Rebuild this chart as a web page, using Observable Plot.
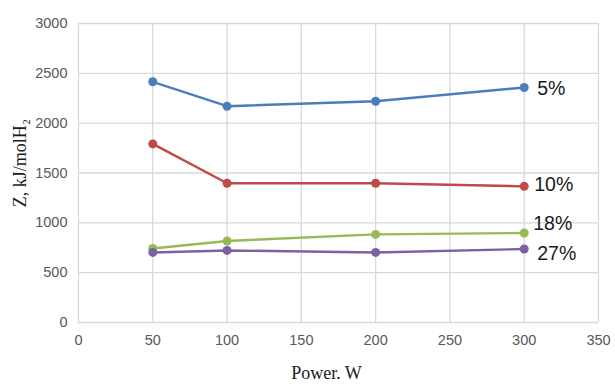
<!DOCTYPE html>
<html>
<head>
<meta charset="utf-8">
<script src="https://cdn.jsdelivr.net/npm/d3@7"></script>
<script src="https://cdn.jsdelivr.net/npm/@observablehq/plot@0.6"></script>
<style>
  html, body { margin: 0; padding: 0; background: #fff; }
</style>
</head>
<body>
<div id="chart"></div>
<script>
const power = [50, 100, 200, 300];
const seriesNames = ["5%", "10%", "18%", "27%"];
const z5 = [2415, 2170, 2220, 2358];
const z10 = [1792, 1397, 1397, 1366];
const z18 = [743, 818, 884, 898];
const z27 = [703, 723, 703, 737];
const xTicks = [0, 50, 100, 150, 200, 250, 300, 350];
const yTicks = [0, 500, 1000, 1500, 2000, 2500, 3000];
const xLabel = "Power. W";
const yLabel = "Z, kJ/molH\u2082";

const colors = ["#4A7EBB", "#BE4B48", "#98B954", "#7D60A0"];
const allValues = [z5, z10, z18, z27];
const rows = [];
seriesNames.forEach((s, i) => power.forEach((p, j) => rows.push({series: s, power: p, z: allValues[i][j]})));
const lastRows = seriesNames.map((s, i) => ({series: s, power: power[power.length - 1], z: allValues[i][power.length - 1]}));
const labelDy = [1, -2, -9, 5];
const labelDx = [13, 10, 9, 13];

const chart = Plot.plot({
  width: 615,
  height: 385,
  marginLeft: 78,
  marginRight: 17,
  marginTop: 23,
  marginBottom: 63,
  style: {fontFamily: "'Liberation Sans', Arial, sans-serif", background: "#fff"},
  x: {domain: [0, 350], ticks: xTicks},
  y: {domain: [0, 3000], ticks: yTicks},
  color: {domain: seriesNames, range: colors},
  marks: [
    Plot.gridX(xTicks, {stroke: "#d9d9d9", strokeOpacity: 1, strokeWidth: 1.3}),
    Plot.gridY(yTicks, {stroke: "#d9d9d9", strokeOpacity: 1, strokeWidth: 1.3}),
    Plot.axisX(xTicks, {tickSize: 0, tickPadding: 12, fontSize: 14.5, fill: "#595959", label: null, tickFormat: "d"}),
    Plot.axisY(yTicks, {tickSize: 0, tickPadding: 11, fontSize: 14.5, fill: "#595959", label: null, tickFormat: "d"}),
    Plot.line(rows, {x: "power", y: "z", z: "series", stroke: "series", strokeWidth: 2.4}),
    Plot.dot(rows, {x: "power", y: "z", fill: "series", r: 4.5}),
    ...lastRows.map((d, i) => Plot.text([d], {x: "power", y: "z", text: "series", dx: labelDx[i], dy: labelDy[i], textAnchor: "start", fontSize: 19.5, fill: "#1a1a1a"})),
    Plot.text([xLabel], {frameAnchor: "bottom", textAnchor: "middle", dx: -12, dy: 56, fontFamily: "'Liberation Serif', 'Times New Roman', serif", fontSize: 18, fill: "#1a1a1a"}),
    Plot.text([yLabel], {frameAnchor: "left", textAnchor: "middle", rotate: -90, dx: -58, dy: -10, fontFamily: "'Liberation Serif', 'Times New Roman', serif", fontSize: 18, fill: "#1a1a1a"})
  ]
});
document.getElementById("chart").appendChild(chart);
</script>
</body>
</html>
